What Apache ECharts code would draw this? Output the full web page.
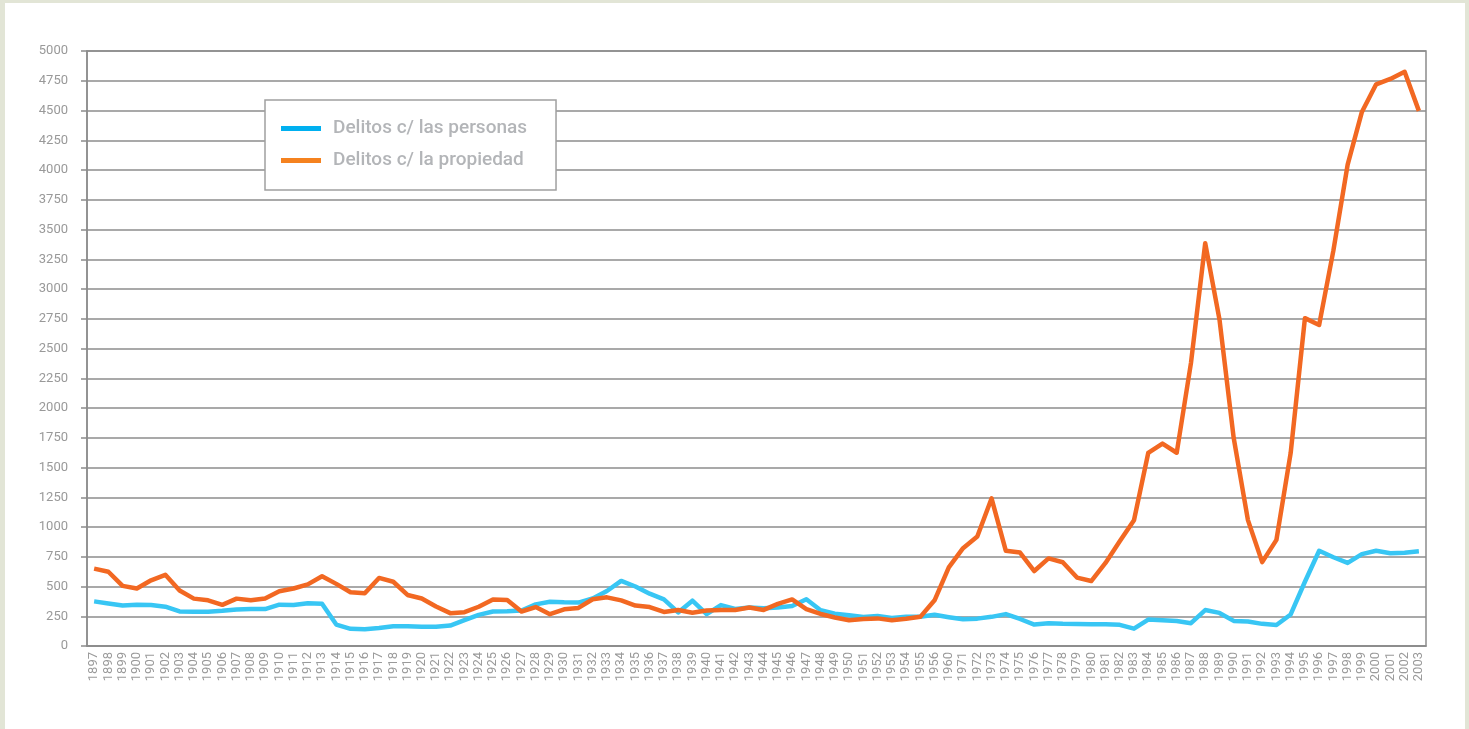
<!DOCTYPE html>
<html>
<head>
<meta charset="utf-8">
<script src="https://cdn.jsdelivr.net/npm/echarts@6/dist/echarts.min.js"></script>
<style>
  html, body { margin: 0; padding: 0; background: #e2e5d6; }
  #chart { position: absolute; left: 5px; top: 3px; width: 1460px; height: 726px; background: #fff; }
</style>
</head>
<body>
<div id="chart"></div>
<script>
// años (la serie salta de 1956 a 1960 y luego a 1971)
var years = ['1897','1898','1899','1900','1901','1902','1903','1904','1905','1906',
  '1907','1908','1909','1910','1911','1912','1913','1914','1915','1916',
  '1917','1918','1919','1920','1921','1922','1923','1924','1925','1926',
  '1927','1928','1929','1930','1931','1932','1933','1934','1935','1936',
  '1937','1938','1939','1940','1941','1942','1943','1944','1945','1946',
  '1947','1948','1949','1950','1951','1952','1953','1954','1955','1956',
  '1960','1971','1972','1973','1974','1975','1976','1977','1978','1979',
  '1980','1981','1982','1983','1984','1985','1986','1987','1988','1989',
  '1990','1991','1992','1993','1994','1995','1996','1997','1998','1999',
  '2000','2001','2002','2003'];

var personas = [375, 358, 340, 347, 345, 330, 290, 288, 288, 296,
  307, 310, 310, 347, 344, 360, 355, 180, 144, 141,
  152, 166, 166, 161, 161, 172, 217, 262, 290, 292,
  298, 350, 372, 367, 365, 400, 462, 547, 500, 440,
  392, 282, 381, 268, 344, 312, 324, 318, 324, 336,
  393, 300, 272, 258, 244, 253, 236, 245, 245, 262,
  242, 224, 230, 245, 268, 227, 180, 192, 187, 185,
  183, 182, 178, 146, 222, 216, 210, 192, 302, 278,
  211, 206, 186, 176, 265, 540, 800, 746, 698, 772,
  800, 780, 784, 796];

var propiedad = [650, 624, 505, 483, 552, 598, 466, 398, 384, 346,
  398, 385, 400, 460, 483, 518, 586, 522, 452, 444,
  572, 540, 429, 399, 332, 276, 284, 330, 391, 386,
  290, 327, 267, 308, 320, 393, 409, 383, 340, 327,
  286, 303, 280, 298, 303, 303, 324, 303, 354, 391,
  310, 269, 240, 216, 226, 232, 216, 229, 245, 384,
  660, 822, 920, 1240, 801, 785, 630, 736, 704, 575,
  546, 698, 880, 1056, 1622, 1701, 1624, 2378, 3385, 2745,
  1748, 1058, 705, 892, 1622, 2755, 2698, 3324, 4045, 4488,
  4720, 4765, 4825, 4497];

var chart = echarts.init(document.getElementById('chart'));

var option = {
  animation: false,
  textStyle: { fontFamily: 'Roboto, sans-serif' },
  grid: {
    left: 82, top: 48, right: 39, bottom: 83,
    show: true,
    borderColor: '#8c8c8c',
    borderWidth: 1.5
  },
  legend: {
    orient: 'vertical',
    left: 260,
    top: 97,
    padding: [19, 29, 20, 16],
    itemGap: 13,
    itemWidth: 40,
    itemHeight: 5,
    icon: 'rect',
    borderColor: '#a0a0a0',
    borderWidth: 1.5,
    backgroundColor: '#fff',
    textStyle: { color: '#b3b5b8', fontSize: 19, fontWeight: 500, padding: [0, 0, 0, 7] },
    data: [
      { name: 'Delitos c/ las personas', itemStyle: { color: '#00b0f0' } },
      { name: 'Delitos c/ la propiedad', itemStyle: { color: '#f5821f' } }
    ]
  },
  xAxis: {
    type: 'category',
    data: years,
    boundaryGap: true,
    axisLine: { lineStyle: { color: '#8c8c8c', width: 1.5 } },
    axisTick: { show: false },
    axisLabel: { rotate: 90, interval: 0, fontSize: 13, color: '#9a9a9a', margin: 6 }
  },
  yAxis: {
    type: 'value',
    min: 0,
    max: 5000,
    interval: 250,
    axisLine: { show: true, lineStyle: { color: '#8c8c8c', width: 1.5 } },
    axisTick: { show: true, length: 6, lineStyle: { color: '#8c8c8c', width: 1.5 } },
    axisLabel: { fontSize: 13, color: '#999', margin: 19, formatter: function (v) { return String(v); } },
    splitLine: { lineStyle: { color: '#8c8c8c', width: 1.5 } }
  },
  series: [
    {
      name: 'Delitos c/ las personas',
      type: 'line',
      data: personas,
      symbol: 'none',
      itemStyle: { color: '#38c6f4' },
      lineStyle: { color: '#38c6f4', width: 4.5, join: 'round' }
    },
    {
      name: 'Delitos c/ la propiedad',
      type: 'line',
      data: propiedad,
      symbol: 'none',
      itemStyle: { color: '#f26822' },
      lineStyle: { color: '#f26822', width: 4.5, join: 'round' }
    }
  ]
};

chart.setOption(option);
</script>
</body>
</html>
